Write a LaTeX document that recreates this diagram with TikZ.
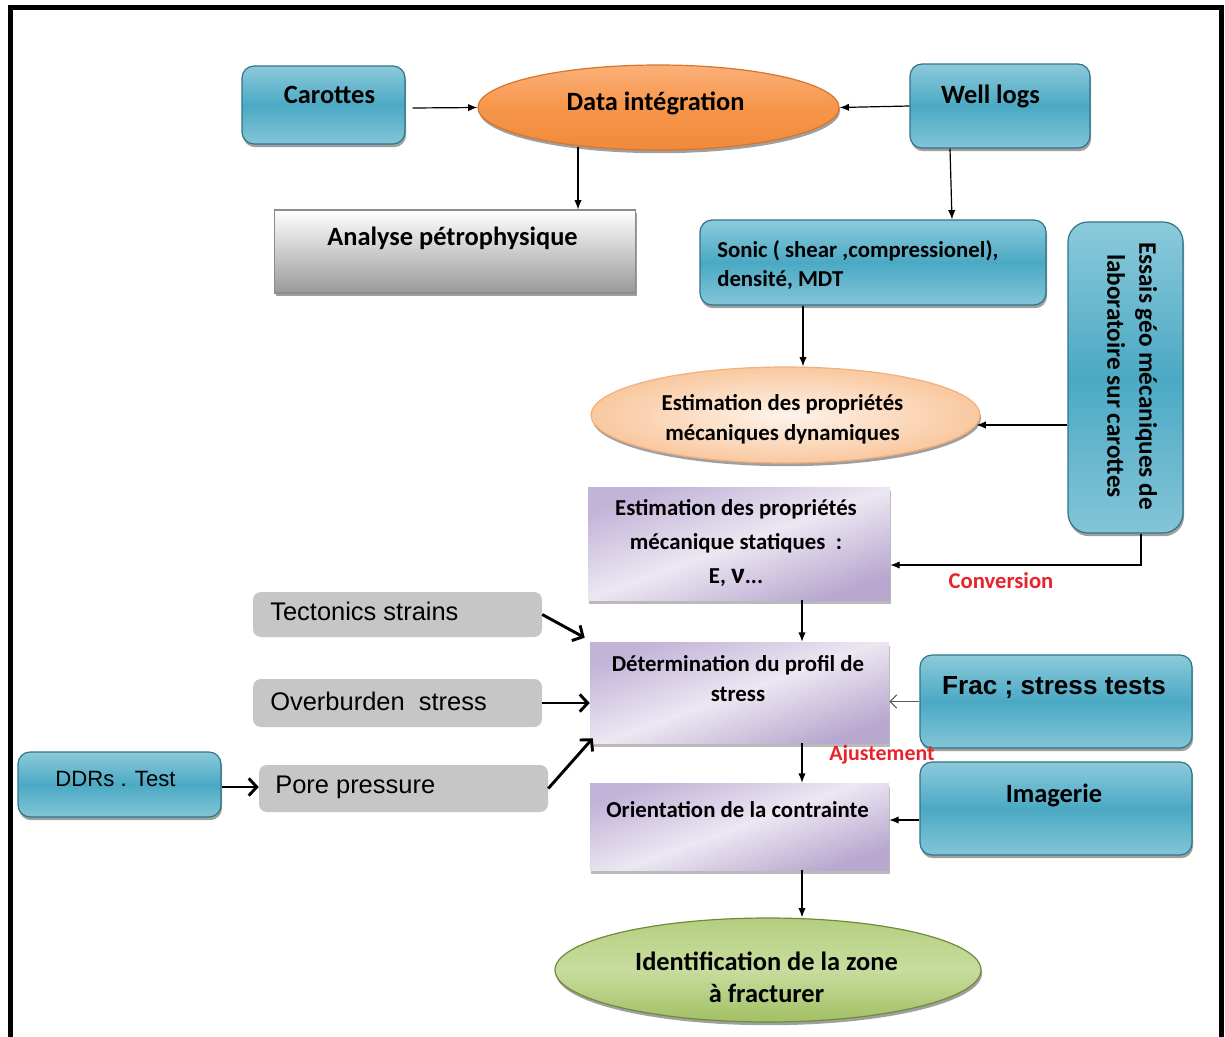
\documentclass[tikz,border=0pt]{standalone}
\usepackage{fontspec}
\setmainfont{Carlito}
\newfontfamily\arialf{Liberation Sans}
\usetikzlibrary{arrows.meta,shadows,shapes.geometric,calc}
\definecolor{blueT}{HTML}{8CCADB}
\definecolor{blueM}{HTML}{4BA9C4}
\definecolor{blueB}{HTML}{84C5D7}
\definecolor{blueD}{HTML}{2F7489}
\definecolor{orT}{HTML}{FAB079}
\definecolor{orM}{HTML}{F7964A}
\definecolor{orB}{HTML}{F08A3C}
\definecolor{orD}{HTML}{D9752A}
\definecolor{peachI}{HTML}{FEF3EA}
\definecolor{peachO}{HTML}{F9C89F}
\definecolor{peachD}{HTML}{F3B07E}
\definecolor{grnT}{HTML}{B4CF80}
\definecolor{grnM}{HTML}{C8DC9E}
\definecolor{grnB}{HTML}{A2C064}
\definecolor{grnD}{HTML}{6E8B39}
\definecolor{purT}{HTML}{C2B3D8}
\definecolor{purM}{HTML}{ECE7F2}
\definecolor{purB}{HTML}{B8A7CF}
\definecolor{grayF}{HTML}{C6C6C6}
\definecolor{redT}{HTML}{E8232A}
\tikzset{
  sz/.style 2 args={minimum width=#1*0.75pt, minimum height=#2*0.75pt},
  shadowed/.style={drop shadow={shadow xshift=0.8pt, shadow yshift=-2.4pt, opacity=0.5, fill=black!75}},
  bluebox/.style={rectangle, rounded corners=9pt, draw=blueD, line width=0.9pt,
    top color=blueT, bottom color=blueB, middle color=blueM, inner sep=0pt, shadowed},
  orangeell/.style={ellipse, draw=orD, line width=0.9pt, top color=orT, bottom color=orB, middle color=orM, inner sep=0pt, shadowed},
  peachell/.style={ellipse, draw=peachD, line width=0.9pt, inner color=peachI, outer color=peachO, inner sep=0pt, shadowed},
  greenell/.style={ellipse, draw=grnD, line width=0.9pt, top color=grnT, bottom color=grnB, middle color=grnM, inner sep=0pt, shadowed},
  graybox/.style={rectangle, draw=black!45, line width=0.8pt, top color=white, bottom color=black!40, inner sep=0pt, shadowed},
  purbox/.style={rectangle, top color=purT, bottom color=purB, middle color=purM, shading angle=20, inner sep=0pt,
    drop shadow={shadow xshift=1pt, shadow yshift=-3pt, opacity=0.45, fill=black!60}},
  graypill/.style={rectangle, rounded corners=6pt, fill=grayF, inner sep=0pt},
  big/.style={inner sep=0pt, font=\fontsize{19.8pt}{24pt}\selectfont\bfseries},
  med/.style={inner sep=0pt, font=\fontsize{17.1pt}{22.5pt}\selectfont\bfseries},
  arialtxt/.style={inner sep=0pt, font=\arialf\fontsize{19.1pt}{23pt}\selectfont},
  arialsm/.style={inner sep=0pt, font=\arialf\fontsize{16.6pt}{20pt}\selectfont},
  arialbold/.style={inner sep=0pt, font=\arialf\bfseries\fontsize{19.6pt}{23pt}\selectfont},
  redtxt/.style={inner sep=0pt, text=redT, font=\fontsize{17pt}{20pt}\selectfont\bfseries},
  arr/.style={draw=black, line width=0.9pt, -{Latex[length=7pt,width=5.5pt]}},
  thickarr/.style={draw=black, line width=2.2pt, -{Straight Barb[length=6pt,width=13pt]}},
  openarr/.style={draw=black!65, line width=0.8pt, -{Straight Barb[length=5pt,width=10pt]}}
}
\begin{document}
\begin{tikzpicture}[x=0.75pt,y=-0.75pt]
\useasboundingbox (0,0) rectangle (1225,1036);
\fill[white] (0,0) rectangle (1225,1036);
\draw[line width=3.75pt] (10,1070) -- (10,7.5) -- (1221.5,7.5) -- (1221.5,1070);

% shapes
\node[bluebox, sz={163}{78}] (carottes) at (323.5,105) {};
\node[orangeell, sz={361}{85}] (data) at (658.5,107.5) {};
\node[bluebox, sz={180}{84}] (wells) at (1000,106) {};
\node[graybox, sz={361}{83}] (analyse) at (455,251.5) {};
\node[bluebox, sz={346}{85}] (sonic) at (873,262.5) {};
\node[bluebox, rounded corners=15pt, sz={115}{311}] (essais) at (1125.5,377.5) {};
\node[peachell, sz={389}{96}] (dyn) at (785.5,415) {};
\node[purbox, sz={302}{113}] (stat) at (739,543.5) {};
\node[graypill, sz={289}{45}] (tect) at (397.5,614.5) {};
\node[graypill, sz={289}{48}] (over) at (397.5,703) {};
\node[graypill, sz={289}{47}] (pore) at (403.5,788.5) {};
\node[bluebox, sz={203}{65}] (ddrs) at (119.5,784.5) {};
\node[purbox, sz={299}{101}] (deter) at (739.5,692.5) {};
\node[bluebox, sz={272}{93}] (frac) at (1056,701.5) {};
\node[purbox, sz={299}{87}] (orient) at (739.5,826.5) {};
\node[bluebox, sz={272}{93}] (imag) at (1056,808.5) {};
\node[greenell, sz={426}{104}] (ident) at (768,970) {};

% texts
\node[big, anchor=base] (carottesT) at (329.5,103) {Carottes};
\node[big, anchor=base] (dataT) at (655.5,110) {Data intégration};
\node[big, anchor=base] (wellsT) at (990.5,103) {Well logs};
\node[big, anchor=base] (analyseT) at (452.5,245) {Analyse pétrophysique};
\node[med, anchor=west, align=left, font=\fontsize{17.1pt}{21.75pt}\selectfont\bfseries] (sonicT) at (717,265) {Sonic ( shear ,compressionel),\\densité, MDT};
\node[big, rotate=-90, align=center, font=\fontsize{18.9pt}{24pt}\selectfont\bfseries] (essaisT) at (1132,376) {Essais géo mécaniques de\\laboratoire sur carottes};
\node[med, align=center] (dynT) at (782.5,419) {Estimation des propriétés\\mécaniques dynamiques};
\node[med, align=center, font=\fontsize{17.1pt}{25.5pt}\selectfont\bfseries] (statT) at (736,543) {Estimation des propriétés\\mécanique statiques \ :\\E, {\fontsize{22pt}{22pt}\selectfont ν}...};
\node[arialtxt, anchor=base west] (tectT) at (270,620) {Tectonics strains};
\node[arialtxt, anchor=base west] (overT) at (270,710) {Overburden\ \ stress};
\node[arialtxt, anchor=base west] (poreT) at (275,793) {Pore pressure};
\node[arialsm, anchor=base] (ddrsT) at (115.5,786) {DDRs . Test};
\node[med, align=center] (deterT) at (738,679) {Détermination du profil de\\stress};
\node[arialbold, anchor=base] (fracT) at (1054,694) {Frac ; stress tests};
\node[med, anchor=base] (orientT) at (737.5,817) {Orientation de la contrainte};
\node[big, anchor=base] (imagT) at (1054,802) {Imagerie};
\node[big, align=center] (identT) at (766.5,977) {Identification de la zone\\à fracturer};
\node[redtxt, anchor=base] (conv) at (1001,588) {Conversion};
\node[redtxt, anchor=base, font=\fontsize{16.4pt}{20pt}\selectfont\bfseries] (ajust) at (882,760) {Ajustement};

% connectors
\draw[arr] ($(carottes.east)+(7,3)$) -- (data.west);
\draw[arr] (wells.west) -- (data.east);
\draw[arr] ($(578,0 |- data.south)+(0,-4)$) -- (578,0 |- analyse.north);
\draw[arr] (950,0 |- wells.south) -- (952,0 |- sonic.north);
\draw[arr] (803,0 |- sonic.south) -- (803,0 |- dyn.north);
\draw[arr] (essais.west |- dyn.-3) -- (dyn.-3);
\draw[arr] (1141,0 |- essais.south) |- (stat.east |- 0,565);
\draw[arr] (802,0 |- stat.south) -- (802,0 |- deter.north);
\draw[thickarr] (tect.east) -- ($(deter.north west)+(-5,-4)$);
\draw[thickarr] (over.east) -- (deter.west |- over.east);
\draw[thickarr] (pore.east) -- ($(deter.south west)+(3,-5)$);
\draw[thickarr] (ddrs.east |- 0,787) -- (pore.west |- 0,787);
\draw[openarr] (frac.west) -- (deter.east |- frac.west);
\draw[arr] (802,0 |- deter.south) -- (802,0 |- orient.north);
\draw[arr] (imag.west |- 0,820) -- (orient.east |- 0,820);
\draw[arr] (802,0 |- orient.south) -- (802,0 |- ident.north);
\end{tikzpicture}
\end{document}
